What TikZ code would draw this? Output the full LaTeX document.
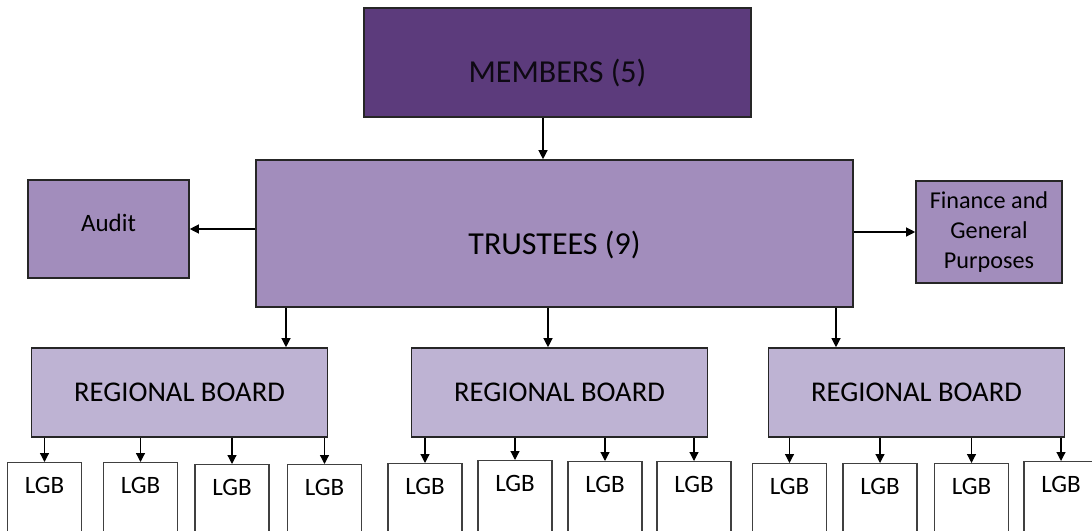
\documentclass[tikz,border=0pt]{standalone}
\usepackage{fontspec}
\setmainfont{Carlito}
\usepackage{tikz}
\usetikzlibrary{arrows.meta, positioning}

\definecolor{membersPurple}{HTML}{5C3B7C}
\definecolor{trusteesPurple}{HTML}{A28DBC}
\definecolor{regionalPurple}{HTML}{BEB3D3}

\begin{document}
\begin{tikzpicture}[x=0.5pt, y=-0.5pt]
    % Define styles
    \tikzstyle{box_base}=[draw=black!85, line width=0.8pt, rectangle, inner sep=0pt]
    \tikzstyle{members_box}=[box_base, fill=membersPurple, text=black!85!membersPurple, font=\fontsize{16}{18}\selectfont, minimum width=193.5pt, minimum height=54.5pt, text height=20.3pt, text depth=0pt]
    \tikzstyle{trustees_box}=[box_base, fill=trusteesPurple, font=\fontsize{16}{18}\selectfont, minimum width=298.5pt, minimum height=73.5pt, text height=21.3pt, text depth=0pt]
    \tikzstyle{side_box}=[box_base, fill=trusteesPurple, align=center]
    \tikzstyle{regional_box}=[box_base, fill=regionalPurple, font=\fontsize{14.3}{16}\selectfont, minimum width=148pt, minimum height=44.5pt]
    \tikzstyle{lgb_box}=[box_base, draw=black!75, line width=0.6pt, fill=white, anchor=north, font=\fontsize{12.5}{15}\selectfont, minimum width=37pt, text height=15.5pt, text depth=24pt]
    \tikzstyle{link}=[line width=0.6pt, -{Triangle[length=4.5pt, width=4.5pt]}]

    \useasboundingbox (0,0) rectangle (1092,530);
    \clip (0,0) rectangle (1092,530);

    % --- 1. Top of the structure ---
    \node[members_box] (members) at (557.5, 62.5) {MEMBERS (5)};
    \node[trustees_box] (trustees) at (554.5, 233.5) {TRUSTEES (9)};

    % Committees either side of the trustees
    \node[side_box, font=\fontsize{12.5}{15}\selectfont, minimum width=80.5pt, minimum height=49pt, text height=8pt, text depth=6pt] (audit) at (108.5, 229) {Audit};
    \node[side_box, font=\fontsize{12.1}{15}\selectfont, minimum width=73pt, minimum height=51pt] (finance) at (989, 232) {Finance and\\General\\Purposes};

    % --- 2. Regional boards ---
    \node[regional_box] (rb1) at (179.5, 392.5) {REGIONAL BOARD};
    \node[regional_box] (rb2) at (559.5, 392.5) {REGIONAL BOARD};
    \node[regional_box] (rb3) at (916.5, 392.5) {REGIONAL BOARD};

    % --- 3. Local governing bodies (cut off at the bottom) ---
    \node[lgb_box] (lgb11) at (44.5, 462) {LGB};
    \node[lgb_box] (lgb12) at (140.5, 462) {LGB};
    \node[lgb_box] (lgb13) at (232, 464) {LGB};
    \node[lgb_box] (lgb14) at (324.5, 464) {LGB};

    \node[lgb_box] (lgb21) at (425, 463) {LGB};
    \node[lgb_box] (lgb22) at (515, 460) {LGB};
    \node[lgb_box] (lgb23) at (605, 461) {LGB};
    \node[lgb_box] (lgb24) at (694, 461) {LGB};

    \node[lgb_box] (lgb31) at (789.5, 463) {LGB};
    \node[lgb_box] (lgb32) at (880, 463) {LGB};
    \node[lgb_box] (lgb33) at (971.5, 463) {LGB};
    \node[lgb_box] (lgb34) at (1061, 461) {LGB};

    % --- 4. Connectors ---
    \coordinate (mx) at (543, 0);
    \coordinate (tx1) at (286, 0);
    \coordinate (tx2) at (548, 0);
    \coordinate (tx3) at (836, 0);

    \draw[link] (members.south -| mx) -- (trustees.north -| mx);
    \draw[link] (trustees.west |- audit.east) -- (audit.east);
    \draw[link] (trustees.east |- finance.west) -- (finance.west);

    \draw[link] (trustees.south -| tx1) -- (rb1.north -| tx1);
    \draw[link] (trustees.south -| tx2) -- (rb2.north -| tx2);
    \draw[link] (trustees.south -| tx3) -- (rb3.north -| tx3);

    \draw[link] (rb1.south -| lgb11.north) -- (lgb11.north);
    \draw[link] (rb1.south -| lgb12.north) -- (lgb12.north);
    \draw[link] (rb1.south -| lgb13.north) -- (lgb13.north);
    \draw[link] (rb1.south -| lgb14.north) -- (lgb14.north);

    \draw[link] (rb2.south -| lgb21.north) -- (lgb21.north);
    \draw[link] (rb2.south -| lgb22.north) -- (lgb22.north);
    \draw[link] (rb2.south -| lgb23.north) -- (lgb23.north);
    \draw[link] (rb2.south -| lgb24.north) -- (lgb24.north);

    \draw[link] (rb3.south -| lgb31.north) -- (lgb31.north);
    \draw[link] (rb3.south -| lgb32.north) -- (lgb32.north);
    \draw[link] (rb3.south -| lgb33.north) -- (lgb33.north);
    \draw[link] (rb3.south -| lgb34.north) -- (lgb34.north);

\end{tikzpicture}
\end{document}
